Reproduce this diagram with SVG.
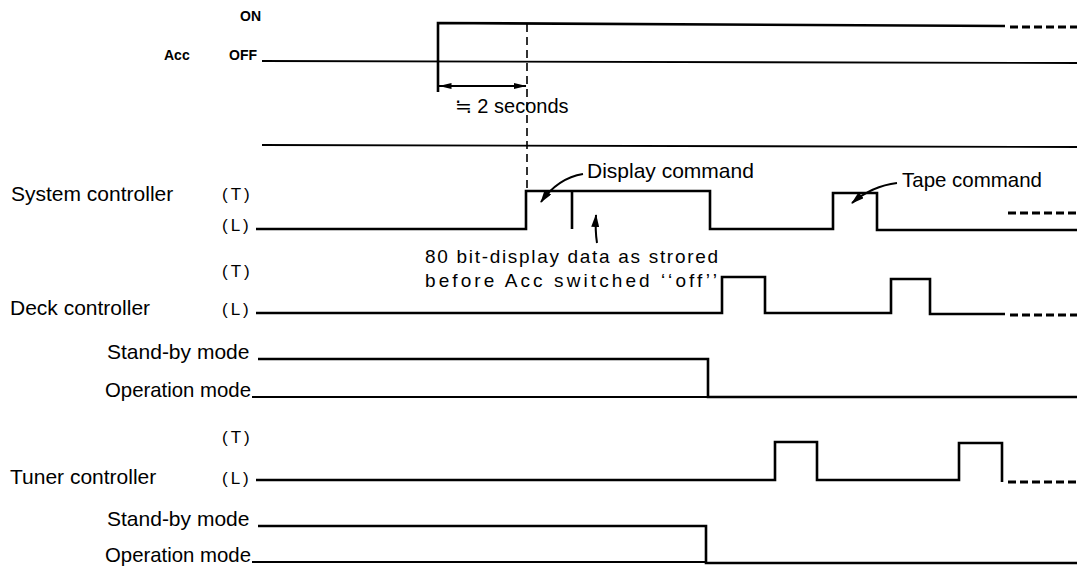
<svg xmlns="http://www.w3.org/2000/svg" width="1077" height="566" viewBox="0 0 1077 566">
<defs>
<marker id="ah" viewBox="0 0 13 6" refX="12.5" refY="3" markerWidth="13" markerHeight="6" markerUnits="userSpaceOnUse" orient="auto-start-reverse"><path d="M0,0 L13,3 L0,6 z" fill="#000"/></marker>
<marker id="lh" viewBox="0 0 13 8" refX="12" refY="4" markerWidth="13" markerHeight="8" markerUnits="userSpaceOnUse" orient="auto"><path d="M0,0 L13,4 L0,8 z" fill="#000"/></marker>
</defs>
<style>
.sig{fill:none;stroke:#000;stroke-width:2.6;stroke-linejoin:miter}
.thin{fill:none;stroke:#000;stroke-width:1.8}
.dash{fill:none;stroke:#000;stroke-width:3;stroke-dasharray:8 4}
.vdash{fill:none;stroke:#000;stroke-width:1.6;stroke-dasharray:8 5}
.lead{fill:none;stroke:#000;stroke-width:2}
.lbl{font-family:"Liberation Sans","DejaVu Sans",sans-serif;font-size:21px;fill:#000}
.sec{font-family:"Liberation Sans","DejaVu Sans",sans-serif;font-size:20px;fill:#000}
.sym{font-family:"DejaVu Sans",sans-serif;font-size:20px}
.bold{font-family:"Liberation Sans",sans-serif;font-size:14px;font-weight:bold;fill:#000}
.tl{font-family:"Liberation Sans",sans-serif;font-size:17px;letter-spacing:3px;fill:#000}
.note{font-family:"Liberation Sans",sans-serif;font-size:19px;fill:#000}
</style>
<rect width="1077" height="566" fill="#fff"/>

<g id="acc">
<text class="bold" x="261" y="21" text-anchor="end">ON</text>
<text class="bold" x="164" y="60">Acc</text>
<text class="bold" x="257" y="60" text-anchor="end">OFF</text>
<path class="thin" d="M262,61 L1077,63"/>
<path class="sig" d="M438,92 V23 L1005,26"/>
<path class="dash" d="M1010,27 H1077"/>
<text class="sec" x="455" y="113"><tspan class="sym">≒</tspan> 2 seconds</text>
<path class="thin" d="M262,145 L1077,147"/>
</g>

<g id="system">
<text class="lbl" x="11" y="201">System controller</text>
<text class="tl" x="222" y="200">(T)</text>
<text class="tl" x="222" y="231">(L)</text>
<path class="sig" d="M256,229 H526 V191 H710 V229 H833 V193 H877 V230 H1077"/>
<path class="sig" d="M572,191 V229"/>
<path class="dash" d="M1008,213 H1077"/>
<text class="lbl" x="587" y="178">Display command</text>
<text class="lbl" x="902" y="187" textLength="140" lengthAdjust="spacingAndGlyphs">Tape command</text>
<text class="note" x="425" y="263" textLength="293" lengthAdjust="spacing">80 bit-display data as strored</text>
<text class="note" x="425" y="287" textLength="292" lengthAdjust="spacing">before Acc switched ‘‘off’’</text>
</g>

<g id="deck">
<text class="tl" x="222" y="277">(T)</text>
<text class="lbl" x="10" y="315">Deck controller</text>
<text class="tl" x="222" y="315">(L)</text>
<path class="sig" d="M256,313 H722 V277 H765 V313 H891 V279 H930 V314 H1005"/>
<path class="dash" d="M1010,315 H1077"/>
<text class="lbl" x="107" y="359">Stand-by mode</text>
<path class="sig" d="M258,359 H708 V397 H1077"/>
<text class="lbl" x="105" y="397" textLength="146" lengthAdjust="spacingAndGlyphs">Operation mode</text>
<path class="thin" d="M252,397 H708"/>
</g>

<g id="tuner">
<text class="tl" x="222" y="443">(T)</text>
<text class="lbl" x="10" y="484">Tuner controller</text>
<text class="tl" x="222" y="484">(L)</text>
<path class="sig" d="M256,480 H775 V442 H817 V480 H959 V443 H1002 V482"/>
<path class="dash" d="M1008,482 H1077"/>
<text class="lbl" x="107" y="526">Stand-by mode</text>
<path class="sig" d="M258,526 H706 V563 H1077"/>
<text class="lbl" x="105" y="562" textLength="146" lengthAdjust="spacingAndGlyphs">Operation mode</text>
<path class="thin" d="M252,562 H706"/>
</g>

<g id="connectors">
<path class="vdash" d="M527,24 V190"/>
<path class="thin" d="M439,86 H526" marker-start="url(#ah)" marker-end="url(#ah)"/>
<path class="lead" d="M583,174 Q558,178 541,202" marker-end="url(#lh)"/>
<path class="lead" d="M897,183 Q872,186 852,203" marker-end="url(#lh)"/>
<path class="lead" d="M597,243 Q595,230 596,215" marker-end="url(#lh)"/>
</g>
</svg>
